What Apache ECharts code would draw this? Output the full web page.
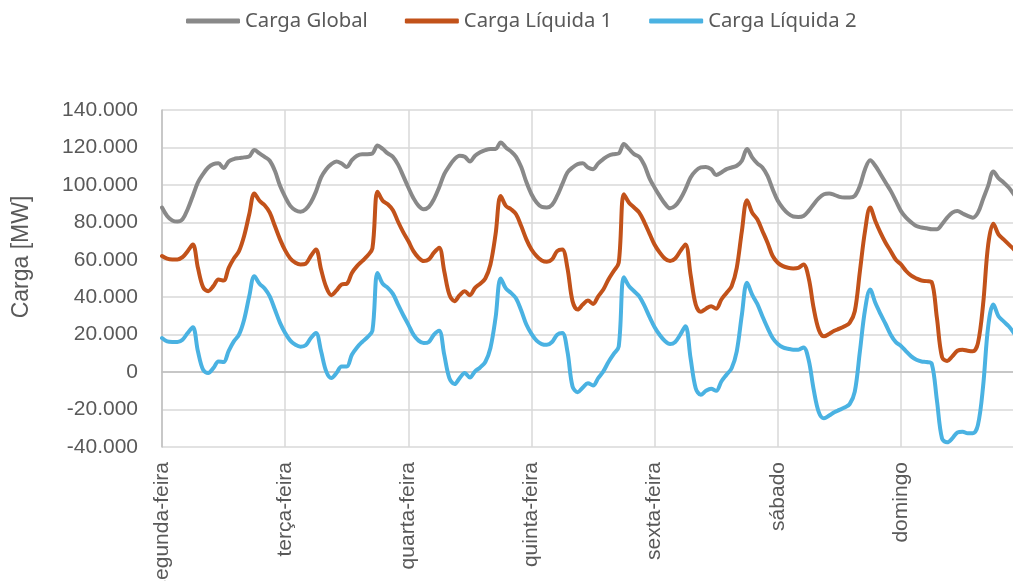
<!DOCTYPE html>
<html>
<head>
<meta charset="utf-8">
<title>Carga semanal</title>
<script src="https://cdn.jsdelivr.net/npm/echarts@6/dist/echarts.min.js"></script>
<style>
  html, body { margin: 0; padding: 0; background: #ffffff; overflow: hidden; }
  #chart { width: 1013px; height: 581px; }
</style>
</head>
<body>
<div id="chart"></div>
<script>
// Weekday names, one label per 24 hourly points
const days = ['segunda-feira', 'terça-feira', 'quarta-feira', 'quinta-feira', 'sexta-feira', 'sábado', 'domingo'];

// Hourly load in thousands of MW (7 days x 24 h)
const cargaGlobal = [
  87.9, 83.4, 81.0, 80.4, 81.6, 87.0, 94.1, 101.3, 105.8, 109.3, 111.1, 111.5, 109.0, 112.5, 113.8, 114.3, 114.7, 115.2, 118.6, 116.8, 115.0, 112.9, 107.5, 99.5,
  93.6, 88.8, 86.5, 85.7, 87.0, 90.6, 96.4, 104.0, 108.4, 111.1, 112.5, 111.4, 109.6, 113.2, 115.6, 116.4, 116.4, 116.8, 121.0, 119.2, 116.8, 115.0, 110.8, 104.8,
  98.6, 92.9, 88.8, 87.0, 88.2, 92.4, 98.6, 105.8, 110.2, 113.8, 115.6, 115.0, 112.5, 115.6, 117.4, 118.6, 119.2, 119.2, 122.7, 120.0, 117.9, 115.0, 109.5, 101.5,
  95.0, 90.6, 88.2, 87.9, 89.3, 94.1, 100.4, 106.6, 109.3, 111.1, 111.5, 109.3, 108.4, 111.5, 113.8, 115.6, 116.4, 116.8, 121.8, 119.2, 116.4, 115.0, 110.5, 103.5,
  98.5, 94.0, 90.0, 87.5, 88.8, 92.4, 97.7, 104.0, 107.5, 109.3, 109.6, 108.4, 105.3, 106.6, 108.4, 109.3, 110.2, 112.9, 119.2, 114.7, 111.5, 109.3, 104.8, 97.7,
  91.5, 87.5, 84.7, 83.1, 82.9, 83.4, 86.1, 89.7, 92.9, 95.0, 95.4, 94.7, 93.6, 93.2, 93.2, 94.1, 99.5, 108.4, 113.2, 110.2, 105.8, 101.3, 96.8, 91.5,
  86.0, 82.5, 80.0, 78.0, 77.2, 76.8, 76.3, 76.3, 79.0, 82.5, 85.2, 86.1, 84.7, 83.4, 82.5, 85.2, 92.4, 99.6, 107.2, 103.6, 101.3, 98.6, 95.0, 91.0
];

const cargaLiquida1 = [
  62.0, 60.6, 60.2, 60.2, 61.4, 64.6, 68.2, 55.7, 45.4, 43.2, 45.9, 49.5, 48.9, 55.7, 60.7, 64.6, 72.7, 84.3, 95.4, 91.5, 89.1, 85.2, 78.0, 70.9,
  65.0, 60.7, 58.4, 57.5, 57.9, 62.0, 65.5, 54.8, 45.4, 41.1, 43.6, 46.8, 47.2, 53.0, 56.6, 59.3, 62.0, 66.1, 96.4, 91.5, 89.7, 86.5, 80.3, 74.8,
  70.0, 64.6, 61.1, 59.3, 60.2, 63.8, 66.4, 53.9, 41.4, 37.9, 41.1, 43.2, 41.1, 45.0, 47.2, 50.0, 57.5, 73.6, 94.1, 88.8, 87.0, 84.3, 78.0, 70.9,
  65.5, 62.0, 59.6, 58.9, 60.2, 64.6, 65.5, 55.7, 37.9, 33.4, 36.1, 38.2, 36.4, 40.5, 44.1, 49.5, 53.9, 58.4, 95.0, 90.5, 87.9, 85.2, 80.0, 74.0,
  68.0, 63.8, 60.6, 59.3, 60.7, 64.6, 68.2, 52.1, 36.1, 32.2, 33.9, 35.2, 33.9, 38.8, 42.3, 45.9, 55.7, 75.4, 91.8, 85.2, 81.6, 75.4, 69.1, 62.0,
  58.4, 56.6, 55.7, 55.4, 55.7, 57.5, 50.4, 34.0, 22.5, 19.1, 20.4, 22.1, 23.2, 24.5, 26.3, 32.5, 53.9, 75.4, 87.9, 80.7, 74.5, 69.1, 64.6, 60.0,
  57.5, 54.0, 51.5, 50.0, 48.9, 48.6, 48.0, 29.0, 8.0, 6.0, 8.4, 11.4, 12.0, 11.4, 11.1, 15.5, 36.1, 68.2, 79.3, 73.6, 70.9, 68.2, 65.5, 62.0
];

const cargaLiquida2 = [
  18.2, 16.4, 16.1, 16.1, 17.3, 20.9, 23.9, 11.1, 1.3, -0.5, 2.1, 5.7, 5.4, 11.4, 16.4, 20.0, 28.0, 40.5, 51.2, 47.2, 44.7, 40.5, 33.4, 26.3,
  20.9, 16.8, 14.6, 13.6, 14.3, 18.2, 20.9, 11.1, 0.4, -3.2, -0.5, 3.0, 3.0, 9.3, 13.2, 16.1, 18.6, 22.1, 53.0, 47.2, 45.0, 41.8, 36.0, 30.5,
  25.4, 20.0, 16.8, 15.5, 16.1, 20.0, 22.1, 9.3, -3.2, -6.4, -3.2, -0.5, -2.9, 0.4, 2.5, 5.4, 12.9, 29.0, 50.0, 44.7, 42.3, 39.3, 32.9, 25.4,
  20.4, 16.8, 15.0, 14.6, 16.1, 20.0, 20.9, 11.1, -7.7, -10.7, -8.2, -5.9, -7.1, -3.2, 0.4, 5.4, 9.6, 13.7, 50.7, 45.9, 43.2, 40.5, 35.5, 29.5,
  24.0, 19.8, 16.6, 15.0, 16.1, 20.0, 24.5, 7.5, -8.6, -12.1, -10.0, -8.9, -10.0, -5.0, -1.4, 2.1, 11.1, 30.7, 47.7, 41.4, 36.4, 29.8, 23.6, 18.2,
  15.0, 13.2, 12.5, 12.0, 12.0, 13.2, 6.6, -9.5, -21.5, -24.7, -23.2, -21.4, -20.2, -18.9, -17.1, -10.4, 11.1, 33.4, 44.1, 37.0, 31.1, 25.7, 20.0, 16.0,
  14.0, 11.1, 8.4, 6.6, 5.7, 5.4, 4.5, -15.0, -35.5, -37.5, -35.4, -32.2, -31.8, -32.7, -32.7, -28.2, -7.7, 24.5, 36.1, 29.8, 27.1, 24.5, 20.9, 17.0
];

// Y axis ticks (MW)
const yMin = -40000, yMax = 140000, yStep = 20000;

const HOURS = 24;
const categories = [];
days.forEach(function (d) {
  for (let h = 0; h < HOURS; h++) categories.push(d + ' ' + h + 'h');
});
const toMW = function (arr) { return arr.map(function (v) { return Math.round(v * 1000); }); };

const textColor = '#595959';
const gridColor = '#d9d9d9';
const axisColor = '#bfbfbf';

function fmtThousands(v) {
  if (v === 0) return '0';
  const sign = v < 0 ? '-' : '';
  return sign + String(Math.abs(v)).replace(/\B(?=(\d{3})+(?!\d))/g, '.');
}

const chart = echarts.init(document.getElementById('chart'), null, { renderer: 'canvas' });

const lineSeries = function (name, data, color) {
  return {
    name: name,
    type: 'line',
    data: toMW(data),
    smooth: 0.35,
    symbol: 'none',
    lineStyle: { width: 4, color: color, cap: 'round', join: 'round' },
    itemStyle: { color: color },
    emphasis: { disabled: true }
  };
};

chart.setOption({
  animation: false,
  backgroundColor: '#ffffff',
  legend: {
    top: 6,
    left: 181,
    icon: 'roundRect',
    itemWidth: 54,
    itemHeight: 5,
    itemGap: 37,
    textStyle: { fontFamily: 'Noto Sans', fontSize: 20.3, color: textColor },
    data: ['Carga Global', 'Carga Líquida 1', 'Carga Líquida 2']
  },
  graphic: [{
    type: 'text',
    x: 22,
    y: 257,
    rotation: Math.PI / 2,
    style: {
      text: 'Carga [MW]',
      font: '23px "Liberation Sans"',
      fill: textColor,
      align: 'center',
      verticalAlign: 'middle'
    }
  }],
  // plot runs slightly past the right edge of the canvas; labels may be clipped
  grid: { left: 162, top: 110, width: 857, height: 337, containLabel: false, outerBoundsMode: 'none' },
  xAxis: {
    type: 'category',
    data: categories,
    boundaryGap: false,
    axisLine: { show: true, lineStyle: { color: axisColor, width: 1.5 } },
    axisTick: { show: false },
    axisLabel: {
      interval: HOURS - 1,
      rotate: 90,
      margin: 15,
      fontFamily: 'Liberation Sans',
      fontSize: 21,
      color: textColor,
      formatter: function (val) { return val.replace(/ \d+h$/, ''); }
    },
    splitLine: { show: true, interval: HOURS - 1, lineStyle: { color: gridColor, width: 1.5 } }
  },
  yAxis: {
    type: 'value',
    min: yMin,
    max: yMax,
    interval: yStep,
    axisLine: { show: true, lineStyle: { color: axisColor, width: 1.5 } },
    axisTick: { show: false },
    axisLabel: {
      margin: 24,
      fontFamily: 'Liberation Sans',
      fontSize: 21,
      color: textColor,
      formatter: fmtThousands
    },
    splitLine: { show: true, lineStyle: { color: gridColor, width: 1.5 } }
  },
  series: [
    lineSeries('Carga Global', cargaGlobal, '#898989'),
    lineSeries('Carga Líquida 1', cargaLiquida1, '#c2521a'),
    lineSeries('Carga Líquida 2', cargaLiquida2, '#4ab2e2')
  ]
});
</script>
</body>
</html>
